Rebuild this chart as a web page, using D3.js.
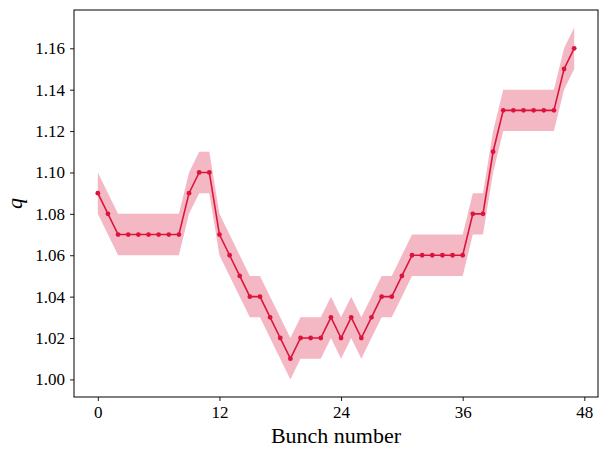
<!DOCTYPE html>
<html>
<head>
<meta charset="utf-8">
<script src="https://cdn.jsdelivr.net/npm/d3@7"></script>
<style>
  body { margin: 0; background: #fff; }
  svg text { font-family: "Liberation Serif", "DejaVu Serif", serif; }
</style>
</head>
<body>
<div id="chart"></div>
<script>
// bunch index and q values
const bunches = d3.range(48)
const qValues = [
  1.09, 1.08, 1.07, 1.07, 1.07, 1.07, 1.07, 1.07, 1.07, 1.09,
  1.10, 1.10, 1.07, 1.06, 1.05, 1.04, 1.04, 1.03, 1.02, 1.01,
  1.02, 1.02, 1.02, 1.03, 1.02, 1.03, 1.02, 1.03, 1.04, 1.04,
  1.05, 1.06, 1.06, 1.06, 1.06, 1.06, 1.06, 1.08, 1.08, 1.11,
  1.13, 1.13, 1.13, 1.13, 1.13, 1.13, 1.15, 1.16
]
const qErr = 0.01
const xTicks = [0, 12, 24, 36, 48]
const yTicks = [1.00, 1.02, 1.04, 1.06, 1.08, 1.10, 1.12, 1.14, 1.16]

const width = 600, height = 450
const margin = {top: 10, right: 2, bottom: 53, left: 74}

let svg = d3.select("#chart")
    .append("svg")
    .attr("width", width)
    .attr("height", height)

let data = bunches.map((b, i) => ({x: b, q: qValues[i]}))

let x = d3.scaleLinear()
    .domain([-2.35, 49.35])
    .range([margin.left, width - margin.right])

let y = d3.scaleLinear()
    .domain([0.9915, 1.1785])
    .range([height - margin.bottom, margin.top])

let color = "#dc143c"

// error band
svg.append("path")
    .datum(data)
    .attr("fill", color)
    .attr("fill-opacity", 0.3)
    .attr("d", d3.area()
        .x(d => x(d.x))
        .y0(d => y(d.q - qErr))
        .y1(d => y(d.q + qErr)))

svg.append("path")
    .datum(data)
    .attr("fill", "none")
    .attr("stroke", color)
    .attr("stroke-width", 1.6)
    .attr("d", d3.line().x(d => x(d.x)).y(d => y(d.q)))

svg.selectAll("circle")
    .data(data)
    .enter()
    .append("circle")
    .attr("cx", d => x(d.x))
    .attr("cy", d => y(d.q))
    .attr("r", 2.4)
    .attr("fill", color)

// axes
let xAxis = svg.append("g")
    .attr("transform", `translate(0, ${height - margin.bottom})`)
    .call(d3.axisBottom(x).tickValues(xTicks).tickSize(4).tickPadding(5).tickFormat(d3.format("d")))

let yAxis = svg.append("g")
    .attr("transform", `translate(${margin.left}, 0)`)
    .call(d3.axisLeft(y).tickValues(yTicks).tickSize(4).tickPadding(5).tickFormat(d3.format(".2f")))

for (const ax of [xAxis, yAxis]) {
    ax.select(".domain").remove()
    ax.selectAll("line").attr("stroke", "#000").attr("stroke-width", 0.9)
    ax.selectAll("text").attr("font-family", null).style("font-size", "17px").attr("fill", "#000")
}

// frame
svg.append("rect")
    .attr("x", margin.left)
    .attr("y", margin.top)
    .attr("width", width - margin.left - margin.right)
    .attr("height", height - margin.top - margin.bottom)
    .attr("fill", "none")
    .attr("stroke", "#000")
    .attr("stroke-width", 1)

svg.append("text")
    .attr("x", (margin.left + width - margin.right) / 2)
    .attr("y", 443)
    .attr("text-anchor", "middle")
    .style("font-size", "22px")
    .text("Bunch number")

svg.append("text")
    .attr("transform", `translate(22, ${(margin.top + height - margin.bottom) / 2}) rotate(-90)`)
    .attr("text-anchor", "middle")
    .style("font-size", "22px")
    .style("font-style", "italic")
    .text("q")
</script>
</body>
</html>
